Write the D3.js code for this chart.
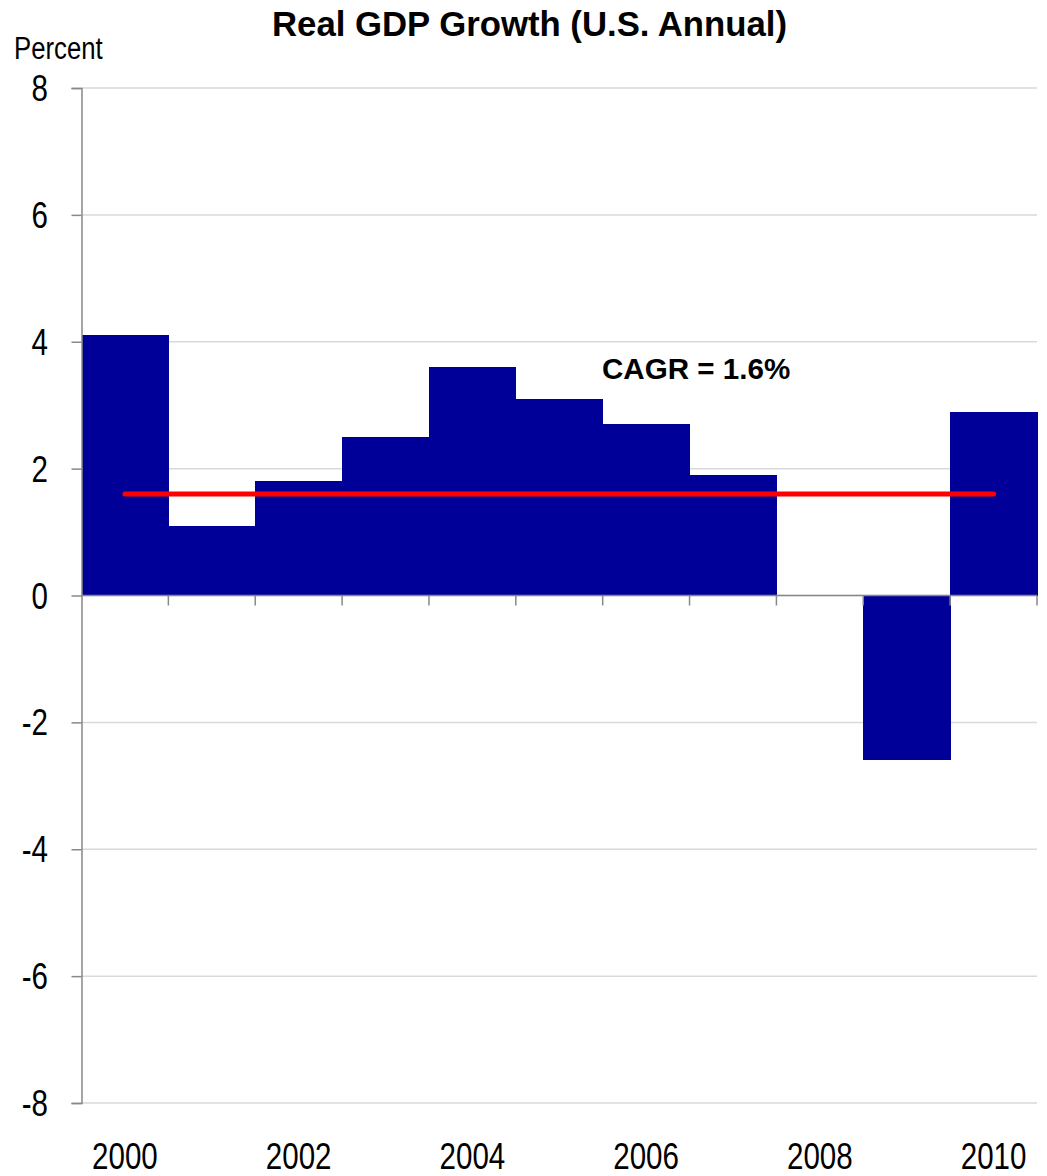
<!DOCTYPE html>
<html>
<head>
<meta charset="utf-8">
<script src="https://cdn.jsdelivr.net/npm/d3@7"></script>
<style>
  html, body { margin: 0; padding: 0; background: #fff; }
  svg { display: block; }
  text { font-family: "Liberation Sans", Arial, sans-serif; fill: #000; }
</style>
</head>
<body>
<svg id="chart" width="1047" height="1176"></svg>
<script>
// Annual real GDP growth, percent
const years = [2000, 2001, 2002, 2003, 2004, 2005, 2006, 2007, 2008, 2009, 2010];
const growth = [4.1, 1.1, 1.8, 2.5, 3.6, 3.1, 2.7, 1.9, 0.0, -2.6, 2.9];
const cagr = 1.6;
const yTicks = [-8, -6, -4, -2, 0, 2, 4, 6, 8];
const xLabelYears = [2000, 2002, 2004, 2006, 2008, 2010];

const svg = d3.select("#chart");
const margin = { left: 81.5, right: 10, top: 88, bottom: 73 };
const W = 1047, H = 1176;

// stretch or squeeze a text horizontally
function narrow(sel, factor) {
  sel.each(function () {
    const w = this.getComputedTextLength();
    d3.select(this)
      .attr("textLength", w * factor)
      .attr("lengthAdjust", "spacingAndGlyphs");
  });
}

const x = d3.scaleBand()
  .domain(years)
  .range([margin.left, W - margin.right])
  .padding(0);

const y = d3.scaleLinear()
  .domain([-8, 8])
  .range([H - margin.bottom, margin.top]);

// horizontal gridlines
svg.append("g")
  .selectAll("line")
  .data(yTicks)
  .join("line")
  .attr("x1", margin.left)
  .attr("x2", W - margin.right)
  .attr("y1", d => y(d))
  .attr("y2", d => y(d))
  .attr("stroke", "#d9d9d9")
  .attr("stroke-width", 1.5);

// bars
svg.append("g")
  .attr("shape-rendering", "crispEdges")
  .selectAll("rect")
  .data(years.map((yr, i) => ({ yr, v: growth[i] })))
  .join("rect")
  .attr("x", d => x(d.yr))
  .attr("width", x.bandwidth() + 0.5)
  .attr("y", d => y(Math.max(0, d.v)))
  .attr("height", d => Math.abs(y(d.v) - y(0)))
  .attr("fill", "#000099");

// y axis line and ticks
const yAxis = d3.axisLeft(y)
  .tickValues(yTicks)
  .tickSize(10)
  .tickFormat("");
const gy = svg.append("g")
  .attr("transform", `translate(${margin.left},0)`)
  .call(yAxis);
gy.select(".domain").attr("stroke", "#888").attr("stroke-width", 1.5);
gy.selectAll(".tick line").attr("stroke", "#888").attr("stroke-width", 1.5);

// y tick labels
svg.append("g")
  .selectAll("text")
  .data(yTicks)
  .join("text")
  .attr("x", 48)
  .attr("y", d => y(d) + 13)
  .attr("text-anchor", "end")
  .attr("font-size", 36)
  .text(d => String(d))
  .call(narrow, 0.82);

// zero line with ticks at the year boundaries
const gx = svg.append("g");
gx.append("line")
  .attr("x1", margin.left)
  .attr("x2", W - margin.right)
  .attr("y1", y(0))
  .attr("y2", y(0))
  .attr("stroke", "#888")
  .attr("stroke-width", 1.5);
gx.selectAll("line.tk")
  .data(years)
  .join("line")
  .attr("class", "tk")
  .attr("x1", d => x(d) + x.bandwidth())
  .attr("x2", d => x(d) + x.bandwidth())
  .attr("y1", y(0))
  .attr("y2", y(0) + 10)
  .attr("stroke", "#888")
  .attr("stroke-width", 1.5);

// year labels
svg.append("g")
  .selectAll("text")
  .data(xLabelYears)
  .join("text")
  .attr("x", d => x(d) + x.bandwidth() / 2)
  .attr("y", H - 7)
  .attr("text-anchor", "middle")
  .attr("font-size", 36)
  .text(d => d)
  .call(narrow, 0.82);

// average growth line
svg.append("line")
  .attr("x1", x(years[0]) + x.bandwidth() / 2)
  .attr("x2", x(years[years.length - 1]) + x.bandwidth() / 2)
  .attr("y1", y(cagr))
  .attr("y2", y(cagr))
  .attr("stroke", "#ff0000")
  .attr("stroke-width", 5)
  .attr("stroke-linecap", "round");

svg.append("text")
  .attr("x", 602)
  .attr("y", 379)
  .attr("font-size", 29)
  .attr("font-weight", "bold")
  .text(`CAGR = ${cagr}%`)
  .call(narrow, 1.02);

// title and unit label
svg.append("text")
  .attr("x", 529.5)
  .attr("y", 36)
  .attr("text-anchor", "middle")
  .attr("font-size", 35)
  .attr("font-weight", "bold")
  .attr("textLength", 515)
  .attr("lengthAdjust", "spacingAndGlyphs")
  .text("Real GDP Growth (U.S. Annual)");

svg.append("text")
  .attr("x", 14)
  .attr("y", 59)
  .attr("font-size", 31)
  .text("Percent")
  .call(narrow, 0.83);
</script>
</body>
</html>
